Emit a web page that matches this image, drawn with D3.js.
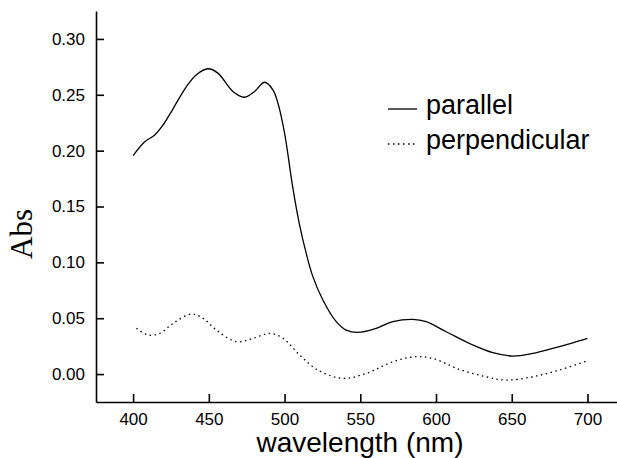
<!DOCTYPE html>
<html>
<head>
<meta charset="utf-8">
<script src="https://cdn.jsdelivr.net/npm/d3@7"></script>
<style>
  body { margin: 0; background: #fff; }
  text { font-family: Arial, "Liberation Sans", Helvetica, sans-serif; fill: #000; }
</style>
</head>
<body>
<svg id="chart"></svg>
<script>
// parallel polarisation spectrum (nm, Abs)
var parWave = [400, 407.7, 414.3, 419.8, 425.3, 435.2, 441.8, 449.5, 456, 465.9, 473.6, 480.2, 486.8, 492.3, 495.6, 500, 505.5, 509.9, 514.3, 518.7, 525.3, 534.1, 540.7, 548.4, 560.5, 571.5, 584.6, 593.5, 606.7, 624.3, 637.5, 650.7, 663.9, 677.1, 690.3, 700];
var parAbs  = [0.1956, 0.208, 0.214, 0.223, 0.235, 0.2574, 0.268, 0.2733, 0.2694, 0.253, 0.2478, 0.253, 0.2612, 0.2545, 0.2426, 0.2157, 0.1664, 0.1335, 0.108, 0.0872, 0.0663, 0.0469, 0.0394, 0.0373, 0.041, 0.0469, 0.049, 0.0469, 0.0379, 0.026, 0.0191, 0.0161, 0.0185, 0.023, 0.028, 0.032];

// perpendicular polarisation spectrum
var perpWave = [402.2, 409.9, 417.6, 426.4, 438.5, 446.2, 455, 468.2, 479.2, 490.2, 499, 510, 522, 538.5, 553.9, 571.5, 585.7, 597.8, 615.4, 633, 646.2, 663.8, 681.4, 700];
var perpAbs  = [0.041, 0.035, 0.0364, 0.0454, 0.0537, 0.0499, 0.0394, 0.029, 0.032, 0.0364, 0.032, 0.017, 0.0036, -0.0039, 0.0006, 0.011, 0.0155, 0.014, 0.0042, -0.0024, -0.0054, -0.0024, 0.0036, 0.0119];

var xTicks = [400, 450, 500, 550, 600, 650, 700];
var yTicks = [0.00, 0.05, 0.10, 0.15, 0.20, 0.25, 0.30];
var seriesNames = ["parallel", "perpendicular"];

var width = 617, height = 458;
var svg = d3.select("#chart").attr("width", width).attr("height", height);

var x = d3.scaleLinear().domain([375.5, 719.5]).range([96, 617]);
var y = d3.scaleLinear().domain([-0.025, 0.325]).range([402, 11]);

var xAxis = svg.append("g")
  .attr("transform", "translate(0,402)")
  .call(d3.axisBottom(x).tickValues(xTicks).tickSizeInner(-8).tickSizeOuter(0).tickPadding(11));
var yAxis = svg.append("g")
  .attr("transform", "translate(96,0)")
  .call(d3.axisLeft(y).tickValues(yTicks).tickFormat(d3.format(".2f")).tickSizeInner(-8).tickSizeOuter(0).tickPadding(11));

[xAxis, yAxis].forEach(function(g) {
  g.selectAll("path, line").attr("stroke", "#000").attr("stroke-width", 1.6);
  g.selectAll("text").style("font-size", "17px").attr("fill", "#000");
});

var line = d3.line()
  .x(function(d) { return x(d[0]); })
  .y(function(d) { return y(d[1]); })
  .curve(d3.curveCatmullRom);

svg.append("path")
  .datum(d3.zip(parWave, parAbs))
  .attr("d", line)
  .attr("fill", "none")
  .attr("stroke", "#000")
  .attr("stroke-width", 1.3);

svg.append("path")
  .datum(d3.zip(perpWave, perpAbs))
  .attr("d", line)
  .attr("fill", "none")
  .attr("stroke", "#000")
  .attr("stroke-width", 1.3)
  .attr("stroke-dasharray", "1.5,3.5");

// legend
var legend = svg.append("g");
seriesNames.forEach(function(name, i) {
  var ly = 109 + i * 35;
  legend.append("line")
    .attr("x1", 388).attr("x2", 417)
    .attr("y1", ly).attr("y2", ly)
    .attr("stroke", "#000")
    .attr("stroke-width", 1.3)
    .attr("stroke-dasharray", i === 0 ? null : "1.5,3.5");
  legend.append("text")
    .attr("x", 426).attr("y", ly + 4.5 + i * 0.5)
    .style("font-size", "27px")
    .text(name);
});

// axis titles
svg.append("text")
  .attr("x", 360).attr("y", 452)
  .attr("text-anchor", "middle")
  .style("font-size", "28px")
  .text("wavelength (nm)");

svg.append("text")
  .attr("transform", "translate(32,234) rotate(-90)")
  .attr("text-anchor", "middle")
  .style("font-family", "'Times New Roman', 'Liberation Serif', serif")
  .style("font-size", "31px")
  .text("Abs");
</script>
</body>
</html>
